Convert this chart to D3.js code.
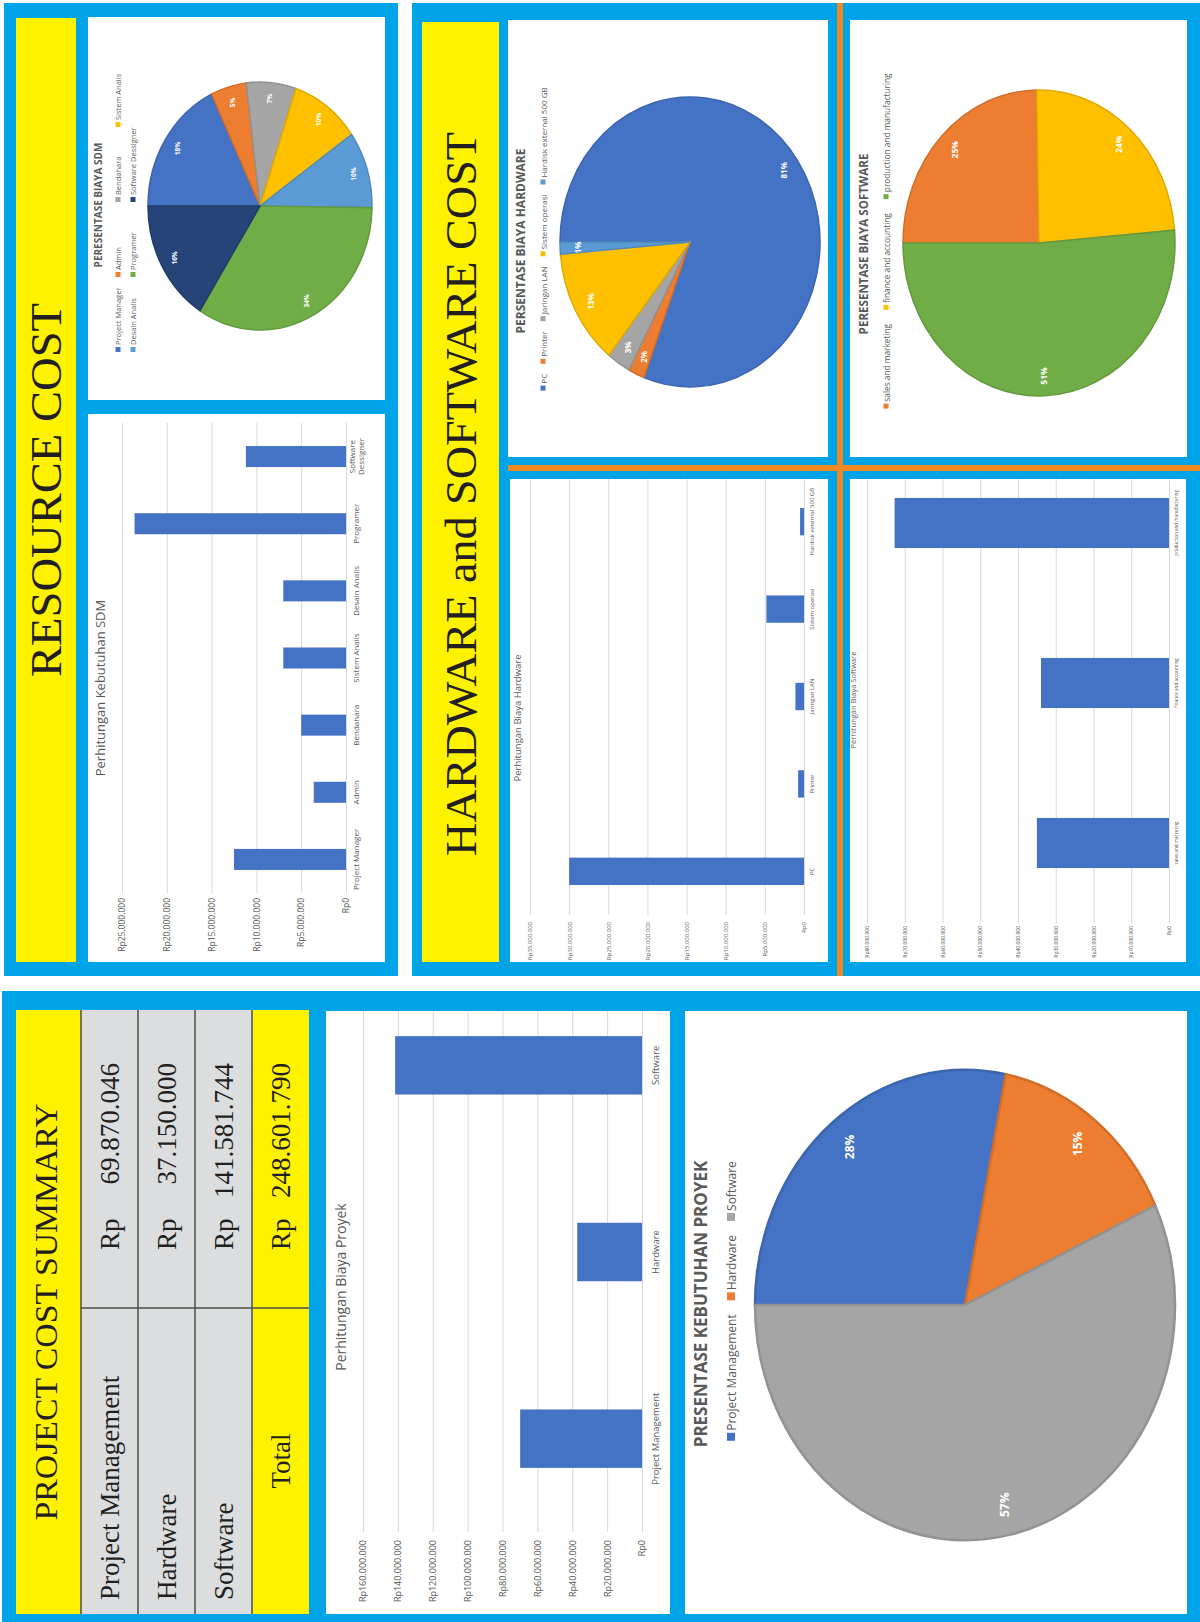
<!DOCTYPE html>
<html>
<head>
<meta charset="utf-8">
<script src="https://cdn.jsdelivr.net/npm/d3@7"></script>
<style>
  body { margin: 0; background: #fff; }
</style>
</head>
<body>
<div id="chart"></div>
<script>
// ---------- data ----------
const summaryCats = ["Project Management", "Hardware", "Software"];
const summaryValues = [69870046, 37150000, 141581744];
const summaryTicks = [0, 20000000, 40000000, 60000000, 80000000, 100000000, 120000000, 140000000, 160000000];
const summaryColors = ["#4472c4", "#ed7d31", "#a5a5a5"];

const sdmCats = ["Project Manager", "Admin", "Bendahara", "Sistem Analis", "Desain Analis", "Programer", "Software Dessigner"];
const sdmValues = [12500000, 3600000, 5000000, 7000000, 7000000, 23600000, 11170046];
const sdmTicks = [0, 5000000, 10000000, 15000000, 20000000, 25000000];
const sdmColors = ["#4472c4", "#ed7d31", "#a5a5a5", "#ffc000", "#5b9bd5", "#70ad47", "#264478"];

const hwCats = ["PC", "Printer", "Jaringan LAN", "Sistem operasi", "Hardisk external 500 GB"];
const hwValues = [30000000, 750000, 1100000, 4800000, 500000];
const hwTicks = [0, 5000000, 10000000, 15000000, 20000000, 25000000, 30000000, 35000000];
const hwColors = ["#4472c4", "#ed7d31", "#a5a5a5", "#ffc000", "#5b9bd5"];

const swCats = ["sales and marketing", "finance and accounting", "production and manufacturing"];
const swValues = [35000000, 33900000, 72681744];
const swTicks = [0, 10000000, 20000000, 30000000, 40000000, 50000000, 60000000, 70000000, 80000000];
const swColors = ["#ed7d31", "#ffc000", "#70ad47"];

// ---------- setup ----------
const W = 1200, H = 1622;
const BLUE = "#00a2e8", YELLOW = "#fff200", ORANGE = "#ee8a24";
const SANS = "'Open Sans', 'Noto Sans', sans-serif";
const SERIF = "'Liberation Serif', 'DejaVu Serif', serif";
const idLocale = d3.formatLocale({decimal: ",", thousands: ".", grouping: [3], currency: ["Rp", ""]});
const rp = idLocale.format("$,.0f");
const num = idLocale.format(",.0f");

const svg = d3.select("#chart").append("svg")
    .attr("width", W)
    .attr("height", H);
const bg = svg.append("g");

// screen rect from [x0, y0, x1, y1]
function box(b, fill) {
  bg.append("rect")
    .attr("x", b[0]).attr("y", b[1])
    .attr("width", b[2] - b[0]).attr("height", b[3] - b[1])
    .attr("fill", fill);
}

// frames and panels
box([4, 3, 398, 976], BLUE);
box([16, 18, 76, 962], YELLOW);
box([88, 17, 385, 400], "#fff");
box([88, 414, 385, 962], "#fff");

box([412, 3, 1200, 976], BLUE);
box([422, 22, 499, 962], YELLOW);
box([508, 20, 828, 457], "#fff");
box([850, 20, 1187, 457], "#fff");
box([510, 479, 828, 962], "#fff");
box([850, 479, 1186, 962], "#fff");
box([508, 465, 1200, 471], ORANGE);
box([837, 3, 843, 976], ORANGE);

box([2, 991, 1200, 1622], BLUE);
box([326, 1011, 670, 1614], "#fff");
box([685, 1011, 1187, 1614], "#fff");

// everything is drawn on its side: a landscape layer turned -90deg
// local x = H - screen y, local y = screen x
const land = svg.append("g").attr("transform", `translate(0,${H}) rotate(-90)`);
const LX = sy => H - sy;
let clipN = 0;

// ---------- big titles ----------
function bigTitle(text, cy, baseX, len, size) {
  land.append("text")
    .attr("x", LX(cy)).attr("y", baseX)
    .attr("text-anchor", "middle")
    .attr("font-family", SERIF)
    .attr("font-size", size)
    .attr("fill", "#231f20")
    .attr("textLength", len)
    .attr("lengthAdjust", "spacingAndGlyphs")
    .text(text);
}
bigTitle("RESOURCE COST", 490, 61, 374, 44);
bigTitle("HARDWARE and SOFTWARE COST", 494, 476, 724, 44);

// ---------- summary table ----------
const tableRows = summaryCats.concat(["Total"]);
const tableVals = summaryValues.concat([d3.sum(summaryValues)]);
const rowX = d3.scaleBand().domain(tableRows).range([81, 309]);

box([16, 1010, 81, 1614], YELLOW);
tableRows.forEach(r => {
  box([rowX(r), 1010, rowX(r) + rowX.bandwidth(), 1614], r === "Total" ? YELLOW : "#dcddde");
});
bg.append("g").selectAll("line")
  .data(tableRows)
  .join("line")
    .attr("x1", d => rowX(d)).attr("x2", d => rowX(d))
    .attr("y1", 1010).attr("y2", 1614)
    .attr("stroke", "#4d4d4d").attr("stroke-width", 1.5);
bg.append("line")
    .attr("x1", 81).attr("x2", 309).attr("y1", 1308).attr("y2", 1308)
    .attr("stroke", "#4d4d4d").attr("stroke-width", 1.5);

const tbl = land.append("g").attr("font-family", SERIF).attr("fill", "#231f20");
tbl.append("text")
    .attr("x", LX(1312)).attr("y", 57)
    .attr("text-anchor", "middle")
    .attr("font-size", 32)
    .attr("textLength", 417)
    .attr("lengthAdjust", "spacingAndGlyphs")
    .text("PROJECT COST SUMMARY");
tbl.selectAll("text.lab")
  .data(tableRows)
  .join("text")
    .attr("class", "lab")
    .attr("x", d => d === "Total" ? LX(1461) : LX(1600))
    .attr("y", d => rowX(d) + rowX.bandwidth() / 2 + 9)
    .attr("text-anchor", d => d === "Total" ? "middle" : "start")
    .attr("font-size", 27)
    .text(d => d);
tbl.selectAll("text.rp")
  .data(tableVals)
  .join("text")
    .attr("class", "rp")
    .attr("x", LX(1250))
    .attr("y", (d, i) => rowX(tableRows[i]) + rowX.bandwidth() / 2 + 9)
    .attr("font-size", 27)
    .text("Rp");
tbl.selectAll("text.val")
  .data(tableVals)
  .join("text")
    .attr("class", "val")
    .attr("x", LX(1063))
    .attr("y", (d, i) => rowX(tableRows[i]) + rowX.bandwidth() / 2 + 9)
    .attr("text-anchor", "end")
    .attr("font-size", 27)
    .text(d => num(d));

// ---------- bar charts ----------
function wrap(text, width) {
  text.each(function() {
    const t = d3.select(this);
    if (this.getComputedTextLength() <= width) return;
    const words = t.text().split(" ");
    const y = t.attr("y"), dy = parseFloat(t.attr("dy"));
    t.text(null);
    words.forEach((w, i) => {
      t.append("tspan").attr("x", 0).attr("y", y).attr("dy", (dy - 0.5 + i * 1.15) + "em").text(w);
    });
  });
}

function barChart(o) {
  const [px0, py0, px1, py1] = o.panel;
  const id = "clip" + (clipN++);
  land.append("clipPath").attr("id", id).append("rect")
      .attr("x", LX(py1)).attr("y", px0)
      .attr("width", py1 - py0).attr("height", px1 - px0);
  const g = land.append("g").attr("clip-path", `url(#${id})`);

  const x = d3.scaleBand()
    .domain(o.cats)
    .range([LX(o.plotBottom), LX(o.plotTop)])
    .paddingInner(0.687)
    .paddingOuter(0.3435);
  const y = d3.scaleLinear()
    .domain([0, d3.max(o.ticks)])
    .range([o.zeroX, o.topX]);

  const gy = g.append("g")
      .attr("transform", `translate(${LX(o.plotBottom)},0)`)
      .call(d3.axisLeft(y).tickValues(o.ticks).tickFormat(rp)
        .tickSize(-(LX(o.plotTop) - LX(o.plotBottom))).tickPadding(o.tickPad))
      .attr("font-family", SANS);
  gy.select(".domain").remove();
  gy.selectAll("line").attr("stroke", "#d9d9d9");
  gy.selectAll("text").attr("font-size", o.tickFs).attr("fill", "#595959");

  g.selectAll("rect.bar")
    .data(o.vals)
    .join("rect")
      .attr("class", "bar")
      .attr("x", (d, i) => x(o.cats[i]))
      .attr("width", x.bandwidth())
      .attr("y", d => y(d))
      .attr("height", d => y(0) - y(d))
      .attr("fill", "#4472c4");

  const gx = g.append("g")
      .attr("transform", `translate(0,${o.zeroX})`)
      .call(d3.axisBottom(x).tickSize(0).tickPadding(o.catPad))
      .attr("font-family", SANS);
  gx.select(".domain").attr("stroke", "#d9d9d9");
  gx.selectAll("text")
      .attr("font-size", o.catFs)
      .attr("fill", "#595959")
      .call(wrap, x.step() * 0.95);

  g.append("text")
      .attr("x", LX(o.titleY)).attr("y", o.titleX)
      .attr("text-anchor", "middle")
      .attr("dominant-baseline", "central")
      .attr("font-family", SANS)
      .attr("font-size", o.titleFs)
      .attr("fill", "#595959")
      .text(o.title);
}

barChart({panel: [88, 414, 385, 962], cats: sdmCats, vals: sdmValues, ticks: sdmTicks,
  plotTop: 423, plotBottom: 893, zeroX: 346, topX: 122, tickFs: 8.5, tickPad: 5, catFs: 8, catPad: 7,
  title: "Perhitungan Kebutuhan SDM", titleX: 100, titleY: 688, titleFs: 13});
barChart({panel: [326, 1011, 670, 1614], cats: summaryCats, vals: summaryValues, ticks: summaryTicks,
  plotTop: 972, plotBottom: 1532, zeroX: 642, topX: 363, tickFs: 9, tickPad: 8, catFs: 9.5, catPad: 10,
  title: "Perhitungan Biaya Proyek", titleX: 340, titleY: 1287, titleFs: 14});
barChart({panel: [510, 479, 828, 962], cats: hwCats, vals: hwValues, ticks: hwTicks,
  plotTop: 478, plotBottom: 915, zeroX: 804, topX: 530, tickFs: 6, tickPad: 7, catFs: 6, catPad: 6,
  title: "Perhitungan Biaya Hardware", titleX: 517, titleY: 718, titleFs: 9.5});
barChart({panel: [850, 479, 1186, 962], cats: swCats, vals: swValues, ticks: swTicks,
  plotTop: 443, plotBottom: 923, zeroX: 1169, topX: 867, tickFs: 5, tickPad: 3, catFs: 4.6, catPad: 6,
  title: "Perhitungan Biaya Software", titleX: 853, titleY: 700, titleFs: 7.5});

// ---------- pie charts ----------
function pieChart(o) {
  const g = land.append("g").attr("font-family", SANS);
  const c = g.append("g").attr("transform", `translate(${LX(o.cy)},${o.cx})`);
  const arcs = d3.pie().sort(null)(o.vals);
  const arc = d3.arc().innerRadius(0).outerRadius(o.r);
  c.append("g")
      .attr("transform", `scale(${o.k},1)`)
    .selectAll("path")
    .data(arcs)
    .join("path")
      .attr("d", arc)
      .attr("fill", (d, i) => o.colors[i])
      .attr("stroke", (d, i) => d3.color(o.colors[i]).darker(0.35))
      .attr("stroke-width", o.sw)
      .attr("vector-effect", "non-scaling-stroke");

  const total = d3.sum(o.vals);
  const la = d3.arc().innerRadius(o.r * 0.87).outerRadius(o.r * 0.87);
  c.selectAll("text")
    .data(arcs)
    .join("text")
      .attr("x", d => la.centroid(d)[0] * o.k)
      .attr("y", d => la.centroid(d)[1])
      .attr("text-anchor", "middle")
      .attr("dominant-baseline", "central")
      .attr("font-size", o.labelFs)
      .attr("font-weight", "bold")
      .attr("fill", "#fff")
      .text(d => Math.round(d.value / total * 100) + "%");

  g.append("text")
      .attr("x", LX(o.titleY)).attr("y", o.titleX)
      .attr("text-anchor", "middle")
      .attr("dominant-baseline", "central")
      .attr("font-size", o.titleFs)
      .attr("font-weight", "bold")
      .attr("fill", "#595959")
      .text(o.title);

  // legend
  const lg = g.append("g");
  const items = lg.selectAll("g")
    .data(o.cats)
    .join("g");
  items.append("rect")
      .attr("x", 0).attr("y", -o.ms / 2)
      .attr("width", o.ms).attr("height", o.ms)
      .attr("fill", (d, i) => o.colors[i]);
  items.append("text")
      .attr("x", o.ms + 2)
      .attr("dominant-baseline", "central")
      .attr("font-size", o.legFs)
      .attr("fill", "#595959")
      .text(d => d);
  if (o.legCols) {
    items.attr("transform", (d, i) =>
      `translate(${LX(o.legCols[i % o.legCols.length])},${o.legRows[Math.floor(i / o.legCols.length)]})`);
  } else {
    let pos = 0;
    items.each(function() {
      const w = o.ms + 2 + d3.select(this).select("text").node().getComputedTextLength();
      d3.select(this).attr("transform", `translate(${pos},0)`);
      pos += w + o.legGap;
    });
    const tw = pos - o.legGap;
    lg.attr("transform", `translate(${LX(o.legCy) - tw / 2},${o.legX})`);
  }
}

pieChart({cats: summaryCats, vals: summaryValues, colors: summaryColors,
  cx: 965, cy: 1305, r: 210, k: 1.12, sw: 2.5, labelFs: 12,
  title: "PRESENTASE KEBUTUHAN PROYEK", titleX: 700, titleY: 1304, titleFs: 17,
  legX: 731, legCy: 1301, legFs: 12, ms: 8, legGap: 14});
pieChart({cats: hwCats, vals: hwValues, colors: hwColors,
  cx: 690, cy: 242, r: 130, k: 1.115, sw: 1.5, labelFs: 8,
  title: "PERSENTASE BIAYA HARDWARE", titleX: 520, titleY: 241, titleFs: 12,
  legX: 543, legCy: 239, legFs: 8, ms: 5, legGap: 10});
pieChart({cats: swCats, vals: swValues, colors: swColors,
  cx: 1039, cy: 243, r: 136, k: 1.125, sw: 1.5, labelFs: 8.5,
  title: "PERESENTASE BIAYA SOFTWARE", titleX: 863, titleY: 244, titleFs: 11.6,
  legX: 886, legCy: 241, legFs: 8.3, ms: 5, legGap: 14});
pieChart({cats: sdmCats, vals: sdmValues, colors: sdmColors,
  cx: 260, cy: 206, r: 112, k: 1.107, sw: 1.5, labelFs: 6.5,
  title: "PERESENTASE BIAYA SDM", titleX: 98, titleY: 205, titleFs: 10,
  legCols: [352, 277, 202, 127], legRows: [118, 133], legFs: 7.5, ms: 5});
</script>
</body>
</html>
